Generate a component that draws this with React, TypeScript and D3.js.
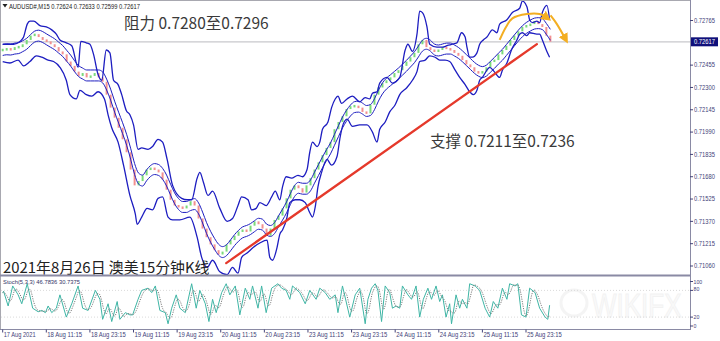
import React from "react";
import * as d3 from "d3";

const W = 720;
const H = 341;

// ---------- data ----------
const headerText = "AUDUSD#,M15  0.72624 0.72633 0.72599 0.72617";
const stochHeader = "Stoch(5,3,3) 46.7836 30.7375";
const priceTicks = [0.72765, 0.72455, 0.723, 0.72145, 0.7199, 0.71835, 0.7168, 0.71525, 0.7137, 0.71215, 0.7106];
const lastPrice = 0.72617;
const timeLabels = [
  "17 Aug 2021", "18 Aug 11:15", "18 Aug 23:15", "19 Aug 11:15", "19 Aug 23:15",
  "20 Aug 11:15", "20 Aug 23:15", "23 Aug 11:15", "23 Aug 23:15", "24 Aug 11:15",
  "24 Aug 23:15", "25 Aug 11:15", "25 Aug 23:15",
];
const barsPerLabel = 48; // 15-minute bars between labels
const closeStep = 4.4; // bars between close samples

const closes = [
  0.7256, 0.7257, 0.7256, 0.7258, 0.7258, 0.726, 0.7263, 0.7266, 0.7267, 0.7265,
  0.7263, 0.7262, 0.726, 0.7258, 0.7255, 0.7253, 0.7248, 0.7245, 0.7241, 0.7238,
  0.724, 0.7237, 0.7238, 0.724, 0.7237, 0.7234, 0.7225, 0.7216, 0.7209, 0.7202,
  0.7194, 0.7185, 0.7173, 0.7162, 0.7165, 0.7169, 0.7173, 0.7174, 0.7173, 0.7171,
  0.7166, 0.7159, 0.7152, 0.7148, 0.7147, 0.7146, 0.7148, 0.7151, 0.7148, 0.7139,
  0.7132, 0.7126, 0.7121, 0.7117, 0.7114, 0.7116, 0.7121, 0.7124, 0.7127, 0.713,
  0.7131, 0.713, 0.7134, 0.7137, 0.7135, 0.7132, 0.7127, 0.7132, 0.7138, 0.7141,
  0.7146, 0.7153, 0.7159, 0.7162, 0.716, 0.7157, 0.7162, 0.7167, 0.7173, 0.7178,
  0.7183, 0.7188, 0.7192, 0.7201, 0.7206, 0.721, 0.7215, 0.7217, 0.7217, 0.7216,
  0.7213, 0.7212, 0.7218, 0.7225, 0.723, 0.7233, 0.7235, 0.7237, 0.724, 0.7242,
  0.7245, 0.7248, 0.7251, 0.7254, 0.726, 0.7263, 0.7258, 0.7256, 0.7255, 0.7256,
  0.7258, 0.7257, 0.7256, 0.7254, 0.7252, 0.7249, 0.7246, 0.7244, 0.7241, 0.724,
  0.7241, 0.7244, 0.7248, 0.7249, 0.7253, 0.7256, 0.7259, 0.7263, 0.7266, 0.7269,
  0.7272, 0.7273, 0.7274, 0.7276, 0.7274, 0.7272, 0.7266, 0.72617,
];

const upperBand: [number, number][] = [
  [0, 0.726], [6, 0.726], [12, 0.726], [19, 0.7262], [23, 0.7265], [27, 0.7274], [30, 0.7276],
  [34, 0.7276], [41, 0.7273], [48, 0.7272], [54, 0.727], [59, 0.7267], [63, 0.7263], [70, 0.7261],
  [76, 0.7259], [83, 0.7244], [86, 0.7262], [92, 0.7261], [96, 0.726], [100, 0.7253], [105, 0.7239],
  [109, 0.7235], [114, 0.7256], [118, 0.7254], [122, 0.7235], [127, 0.7232], [131, 0.7225],
  [136, 0.7214], [140, 0.7211], [144, 0.7204], [149, 0.7187], [153, 0.7188], [160, 0.7187],
  [165, 0.7189], [171, 0.7194], [176, 0.7192], [181, 0.718], [187, 0.7162], [197, 0.7153],
  [203, 0.7152], [208, 0.7152], [214, 0.7167], [217, 0.7171], [221, 0.7164], [226, 0.7155],
  [231, 0.7158], [239, 0.7146], [247, 0.7137], [253, 0.7139], [259, 0.7148], [263, 0.7154],
  [270, 0.7152], [274, 0.7145], [279, 0.7146], [283, 0.715], [290, 0.7148], [296, 0.7154],
  [300, 0.7158], [305, 0.7152], [308, 0.7161], [312, 0.7168], [318, 0.7167], [325, 0.7169],
  [330, 0.7168], [335, 0.7173], [338, 0.7185], [341, 0.7192], [346, 0.7189], [349, 0.7192],
  [352, 0.7201], [358, 0.7206], [362, 0.7216], [366, 0.7222], [369, 0.7224], [373, 0.7219],
  [379, 0.7222], [385, 0.7224], [393, 0.722], [399, 0.7223], [404, 0.7222], [407, 0.7226],
  [412, 0.7227], [415, 0.7233], [423, 0.7237], [429, 0.7233], [437, 0.7237], [443, 0.7256],
  [446, 0.726], [451, 0.7255], [456, 0.7267], [459, 0.7283], [462, 0.7282], [467, 0.7272],
  [470, 0.726], [478, 0.7258], [484, 0.7258], [489, 0.7259], [494, 0.726], [500, 0.7261],
  [505, 0.7268], [509, 0.7265], [511, 0.7258], [514, 0.7251], [517, 0.7251], [522, 0.7254],
  [525, 0.726], [529, 0.7263], [533, 0.7265], [539, 0.727], [544, 0.7268], [547, 0.7274],
  [555, 0.7277], [561, 0.7282], [569, 0.7285], [572, 0.729], [577, 0.7286], [580, 0.7277],
  [583, 0.7275], [588, 0.7276], [591, 0.7275], [594, 0.7282], [599, 0.7287], [602, 0.7277],
];

const lowerBand: [number, number][] = [
  [0, 0.7248], [8, 0.7247], [17, 0.7249], [23, 0.7245], [30, 0.7248], [37, 0.7252], [43, 0.7251],
  [50, 0.7249], [56, 0.7248], [63, 0.7244], [70, 0.7235], [74, 0.7225], [81, 0.7222], [85, 0.7228],
  [92, 0.7225], [98, 0.7224], [105, 0.7227], [112, 0.7222], [116, 0.7211], [120, 0.7202],
  [127, 0.7192], [133, 0.7176], [140, 0.7155], [146, 0.7142], [148, 0.7135], [153, 0.714],
  [159, 0.7146], [165, 0.7145], [171, 0.7153], [176, 0.7154], [182, 0.714], [187, 0.7138],
  [195, 0.7138], [206, 0.714], [214, 0.7126], [219, 0.7112], [225, 0.7105], [231, 0.711],
  [239, 0.7102], [247, 0.71], [253, 0.7105], [259, 0.7101], [263, 0.7112], [269, 0.7115],
  [276, 0.7119], [283, 0.7122], [291, 0.7124], [294, 0.7112], [297, 0.711], [302, 0.7119],
  [305, 0.7128], [308, 0.7131], [313, 0.714], [316, 0.715], [322, 0.7152], [327, 0.7152],
  [333, 0.715], [338, 0.7143], [341, 0.714], [344, 0.7147], [347, 0.7161], [351, 0.7171],
  [357, 0.718], [362, 0.7176], [368, 0.7182], [371, 0.7194], [374, 0.7203], [379, 0.7208],
  [385, 0.7203], [393, 0.7204], [401, 0.7204], [407, 0.7199], [412, 0.7192], [415, 0.7201],
  [421, 0.7206], [426, 0.7213], [432, 0.7218], [437, 0.7225], [445, 0.723], [451, 0.7235],
  [456, 0.7241], [459, 0.7248], [465, 0.7249], [470, 0.7252], [476, 0.7251], [481, 0.7249],
  [487, 0.7249], [492, 0.7248], [498, 0.7242], [503, 0.7237], [509, 0.7232], [514, 0.7227],
  [518, 0.7225], [522, 0.7228], [525, 0.7235], [528, 0.7237], [533, 0.7242], [536, 0.7244],
  [541, 0.7241], [547, 0.7237], [550, 0.7242], [555, 0.7247], [560, 0.7256], [566, 0.7263],
  [569, 0.7267], [572, 0.7268], [577, 0.7266], [580, 0.7268], [588, 0.7267], [591, 0.7267],
  [594, 0.7263], [599, 0.7255], [602, 0.7251],
];

const stochK: [number, number][] = [
  [0, 75], [1, 78], [6, 45], [11, 90], [17, 70], [21, 50], [27, 95], [33, 40], [39, 32], [43, 35],
  [47, 30], [50, 45], [54, 30], [59, 40], [63, 70], [70, 20], [76, 50], [83, 90], [88, 40], [94, 35],
  [102, 80], [107, 60], [110, 15], [116, 50], [120, 10], [126, 55], [129, 15], [135, 30], [140, 25],
  [143, 25], [149, 60], [153, 80], [160, 85], [164, 75], [168, 90], [173, 35], [179, 30], [182, 5],
  [186, 40], [191, 70], [195, 40], [201, 30], [208, 95], [213, 40], [217, 80], [223, 50], [227, 10],
  [231, 60], [235, 30], [241, 75], [246, 95], [250, 70], [256, 90], [261, 25], [267, 85], [272, 60],
  [275, 90], [281, 40], [285, 90], [290, 30], [296, 85], [303, 95], [307, 85], [312, 80], [316, 60],
  [319, 90], [327, 75], [333, 50], [338, 80], [345, 60], [349, 85], [355, 75], [360, 60], [366, 70],
  [369, 30], [374, 90], [382, 20], [388, 70], [393, 85], [399, 5], [402, 60], [406, 85], [410, 95],
  [413, 80], [417, 10], [421, 90], [426, 75], [429, 40], [433, 45], [437, 40], [440, 90], [446, 70],
  [450, 60], [455, 90], [459, 20], [463, 60], [468, 85], [472, 60], [477, 90], [481, 55], [484, 70],
  [488, 20], [492, 50], [494, 5], [499, 70], [503, 40], [506, 60], [511, 40], [514, 95], [520, 90],
  [525, 80], [531, 40], [536, 20], [540, 55], [545, 40], [550, 85], [555, 60], [558, 95], [564, 90],
  [567, 95], [571, 25], [576, 20], [580, 85], [586, 75], [591, 40], [597, 20], [600, 15], [602, 46.8],
];
const stochLevels = [100, 80, 20, 0];

const trendLine: [number, number][] = [[246, 0.7108], [588, 0.72601]];
const arcArrow: [number, number][] = [[547, 0.7263], [554, 0.7272], [561, 0.7278], [577, 0.7281], [591, 0.7281], [600, 0.7278]];
const dropArrow: [number, number][] = [[603, 0.728], [610, 0.7274], [620, 0.7263]];

const resistanceText = "阻力 0.7280至0.7296";
const supportText = "支撑 0.7211至0.7236";
const titleText = "2021年8月26日 澳美15分钟K线";
const watermarkText = "WIKIFX";

// ---------- layout ----------
const PANE_L = 1;
const PANE_R = 690;
const MAIN_T = 1;
const MAIN_B = 275;
const SUB_T = 277;
const SUB_B = 329.5;

const xs = d3.scaleLinear().domain([0, 576]).range([2.7, 526]);
const ys = d3.scaleLinear().domain([0.7106, 0.72765]).range([266, 20.5]);
const ss = d3.scaleLinear().domain([0, 100]).range([326, 281.5]);

const BLUE = "#1d1dc0";
const CJK = "'Noto Sans CJK SC', 'Noto Sans', sans-serif";
const SMALL = "'Liberation Sans', Arial, sans-serif";
const AXIS = "#44447a";

export default function App() {
  const bandLine = d3
    .line<[number, number]>()
    .x((d) => xs(d[0]))
    .y((d) => ys(d[1]))
    .curve(d3.curveMonotoneX);

  // candles: open = previous close
  const candles = closes.map((c, i) => {
    const o = i === 0 ? c : closes[i - 1];
    return { bar: i * closeStep, o, c };
  });

  // envelopes around a short moving average of the closes
  const ma = closes.map((_, i) => {
    const win = closes.slice(Math.max(0, i - 2), i + 1);
    return d3.mean(win) as number;
  });
  const envDev = 0.00038;
  const envUp = ma.map((m, i) => [i * closeStep, m + envDev] as [number, number]);
  const envDn = ma.map((m, i) => [i * closeStep, m - envDev] as [number, number]);

  // stochastic
  const kInterp = d3.scaleLinear().domain(stochK.map((d) => d[0])).range(stochK.map((d) => d[1])).clamp(true);
  const lastBar = stochK[stochK.length - 1][0];
  const dPts: [number, number][] = d3.range(0, lastBar + 1).map((b) => {
    const vals = d3.range(Math.max(0, b - 5), b + 1).map((t) => kInterp(t));
    return [b, d3.mean(vals) as number];
  });
  const stochLine = d3
    .line<[number, number]>()
    .x((d) => xs(d[0]))
    .y((d) => ss(d[1]));

  const annoLine = d3
    .line<[number, number]>()
    .x((d) => xs(d[0]))
    .y((d) => ys(d[1]))
    .curve(d3.curveCatmullRom);

  const stochLabelY = [283.5, 291, 319, 327.5];

  return (
    <svg width={W} height={H} style={{ position: "absolute", left: 0, top: 0, background: "#fff" }}>
      <defs>
        <clipPath id="mainClip">
          <rect x={PANE_L} y={MAIN_T} width={PANE_R - PANE_L} height={MAIN_B - MAIN_T} />
        </clipPath>
        <clipPath id="subClip">
          <rect x={PANE_L} y={SUB_T} width={PANE_R - PANE_L} height={SUB_B - SUB_T} />
        </clipPath>
        <marker id="arrowOrange" viewBox="0 0 10 10" refX="6" refY="5" markerWidth="5" markerHeight="5" orient="auto">
          <path d="M0,0 L10,5 L0,10 z" fill="#f3ae22" />
        </marker>
      </defs>
      <rect x={0} y={0} width={W} height={H} fill="#fff" />

      {/* watermark */}
      <g opacity={0.35}>
        <circle cx={574} cy={303} r={13} fill="none" stroke="#e0e0e0" strokeWidth={3} />
        <text
          transform="translate(592,317) scale(1,1.3)"
          x={0}
          y={0}
          fontFamily={SMALL}
          fontSize={26}
          fill="#f0f0f0"
          stroke="#dcdcdc"
          strokeWidth={0.8}
        >
          {watermarkText}
        </text>
      </g>

      {/* current price line */}
      <line x1={PANE_L} x2={PANE_R} y1={ys(lastPrice)} y2={ys(lastPrice)} stroke="#c8c8cc" strokeWidth={1.3} />

      <g clipPath="url(#mainClip)">
        {candles.map((d, i) => {
          const y1 = ys(Math.max(d.o, d.c));
          const y2 = ys(Math.min(d.o, d.c));
          const h = Math.max(2.5, y2 - y1);
          return (
            <rect
              key={i}
              x={xs(d.bar) - 1}
              y={y1 - (h - (y2 - y1)) / 2}
              width={2}
              height={h}
              fill={d.c >= d.o ? "#7ada7a" : "#f29090"}
            />
          );
        })}
        <path d={bandLine(envUp) || ""} fill="none" stroke={BLUE} strokeWidth={1} />
        <path d={bandLine(envDn) || ""} fill="none" stroke={BLUE} strokeWidth={1} />
        <path d={bandLine(upperBand) || ""} fill="none" stroke={BLUE} strokeWidth={1.3} />
        <path d={bandLine(lowerBand) || ""} fill="none" stroke={BLUE} strokeWidth={1.3} />

        {/* trend line */}
        <line
          x1={xs(trendLine[0][0])}
          y1={ys(trendLine[0][1])}
          x2={xs(trendLine[1][0])}
          y2={ys(trendLine[1][1])}
          stroke="#e5392b"
          strokeWidth={2.3}
          strokeLinecap="round"
        />
        {/* orange arrows */}
        <path d={annoLine(arcArrow) || ""} fill="none" stroke="#f3ae22" strokeWidth={2} markerEnd="url(#arrowOrange)" />
        <path d={annoLine(dropArrow) || ""} fill="none" stroke="#f3ae22" strokeWidth={2} markerEnd="url(#arrowOrange)" />
      </g>

      {/* header */}
      <path d="M2.5,4 L7.5,4 L5,7.5 z" fill="#222" />
      <text x={9} y={8.5} fontFamily={SMALL} fontSize={6.3} fill="#222" textLength={131} lengthAdjust="spacingAndGlyphs">
        {headerText}
      </text>

      {/* annotations */}
      <text x={124} y={29} fontFamily={CJK} fontSize={15.5} fill="#3a3a3a">
        {resistanceText}
      </text>
      <text x={430} y={147} fontFamily={CJK} fontSize={15.5} fill="#3a3a3a">
        {supportText}
      </text>
      <text x={3} y={273} fontFamily={CJK} fontSize={14.9} fill="#222">
        {titleText}
      </text>

      {/* pane borders */}
      <line x1={0.5} x2={PANE_R} y1={0.5} y2={0.5} stroke="#a8a8b0" />
      <line x1={0.5} x2={0.5} y1={0} y2={SUB_B} stroke="#a8a8b0" />
      <line x1={PANE_R + 0.5} x2={PANE_R + 0.5} y1={0} y2={SUB_B} stroke="#8a8aa4" />
      <line x1={0} x2={PANE_R + 1} y1={MAIN_B + 0.5} y2={MAIN_B + 0.5} stroke="#8a8aa4" strokeWidth={2} />
      <line x1={0} x2={PANE_R + 1} y1={SUB_B} y2={SUB_B} stroke="#8a8aa4" />

      {/* price axis */}
      {priceTicks.map((p) => (
        <g key={p}>
          <line x1={PANE_R} x2={PANE_R + 3} y1={ys(p)} y2={ys(p)} stroke={AXIS} />
          <text x={PANE_R + 4} y={ys(p) + 2.3} fontFamily={SMALL} fontSize={6.3} fill={AXIS} textLength={21} lengthAdjust="spacingAndGlyphs">
            {p.toFixed(5)}
          </text>
        </g>
      ))}
      <rect x={PANE_R + 1} y={ys(lastPrice) - 4.5} width={W - PANE_R - 3} height={9} fill="#10107a" />
      <text x={PANE_R + 4} y={ys(lastPrice) + 2.3} fontFamily={SMALL} fontSize={6.3} fill="#fff" textLength={21} lengthAdjust="spacingAndGlyphs">
        {lastPrice.toFixed(5)}
      </text>

      {/* stochastic pane */}
      {[80, 20].map((v) => (
        <line key={v} x1={PANE_L} x2={PANE_R} y1={ss(v)} y2={ss(v)} stroke="#dadada" strokeDasharray="1,2" />
      ))}
      <g clipPath="url(#subClip)">
        <path d={stochLine(stochK) || ""} fill="none" stroke="#3fb5a5" strokeWidth={1} />
        <path d={stochLine(dPts) || ""} fill="none" stroke="#7a7a7a" strokeWidth={1} strokeDasharray="1.2,1.2" />
      </g>
      <text x={3} y={283.5} fontFamily={SMALL} fontSize={5.8} fill="#333366" textLength={77} lengthAdjust="spacingAndGlyphs">
        {stochHeader}
      </text>
      {stochLevels.map((v, i) => (
        <g key={v}>
          <line x1={PANE_R} x2={PANE_R + 3} y1={ss(v)} y2={ss(v)} stroke={AXIS} />
          <text x={PANE_R + 3.5} y={stochLabelY[i]} fontFamily={SMALL} fontSize={5.2} fill={AXIS}>
            {v}
          </text>
        </g>
      ))}

      {/* time axis */}
      {timeLabels.map((t, i) => (
        <g key={t}>
          <line x1={xs(i * barsPerLabel)} x2={xs(i * barsPerLabel)} y1={SUB_B} y2={SUB_B + 3} stroke={AXIS} />
          <text
            x={xs(i * barsPerLabel) + 1}
            y={336.5}
            fontFamily={SMALL}
            fontSize={6.3}
            fill={AXIS}
            textLength={t.length * 2.9}
            lengthAdjust="spacingAndGlyphs"
          >
            {t}
          </text>
        </g>
      ))}
    </svg>
  );
}
